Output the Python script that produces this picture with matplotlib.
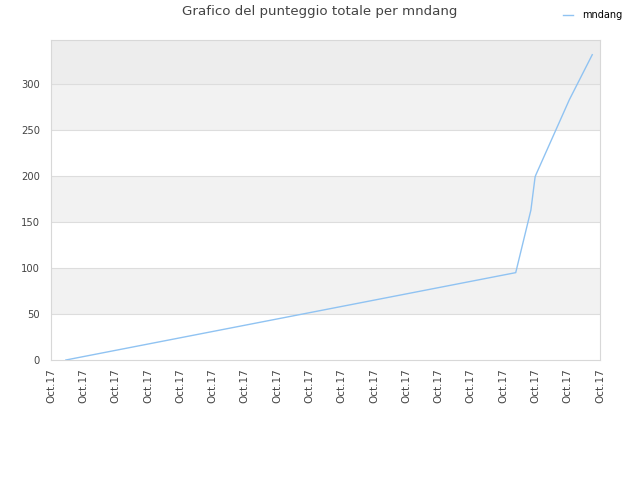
import matplotlib
matplotlib.use("Agg")
import matplotlib.pyplot as plt

plt.rcParams['font.family'] = ['DejaVu Sans']

# data (x in tick-interval units, y = total score)
x_vals = [0.46, 14.39, 14.86, 14.99, 15.01, 16.05, 16.76]
y_vals = [0, 95, 163, 199, 201, 283, 332]
tick_labels = ["Oct.17"] * 18
series_name = "mndang"
title = "Grafico del punteggio totale per mndang"

fig = plt.figure(figsize=(6.4, 4.8), dpi=100)
ax = fig.add_axes([51/640, 120/480, 549/640, 320/480])

ymax = 348
# alternating bands
bands = [(0, 50, '#ffffff'), (50, 100, '#f2f2f2'), (100, 150, '#ffffff'),
         (150, 200, '#f2f2f2'), (200, 250, '#ffffff'), (250, 300, '#f2f2f2'),
         (300, ymax, '#ededed')]
for lo, hi, c in bands:
    ax.axhspan(lo, hi, color=c, zorder=0, lw=0)
for yv in range(50, 301, 50):
    ax.axhline(yv, color='#dddddd', lw=0.8, zorder=1)

ax.plot(x_vals, y_vals, color='#90c3f2', lw=1.0, label=series_name, zorder=3)

ax.set_xlim(0, 17)
ax.set_ylim(0, ymax)
ax.set_xticks(range(18))
ax.set_xticklabels(tick_labels, rotation=90, fontsize=7.5, color='#444444')
ax.set_yticks(range(0, 301, 50))
ax.set_yticklabels([str(v) for v in range(0, 301, 50)], fontsize=7.2, color='#444444')
ax.tick_params(axis='x', length=0, pad=6)
ax.tick_params(axis='y', length=0, pad=8)
for s in ax.spines.values():
    s.set_color('#d8d8d8')
    s.set_linewidth(0.8)

fig.text(0.499, 1 - 12/480, title, ha='center', va='center', fontsize=9.6, color='#444444')
leg = fig.legend(loc='center right', bbox_to_anchor=(0.986, 1 - 15/480), frameon=False,
                 fontsize=7, handlelength=1.1, handletextpad=0.9)

fig.savefig('out.png', dpi=100)
